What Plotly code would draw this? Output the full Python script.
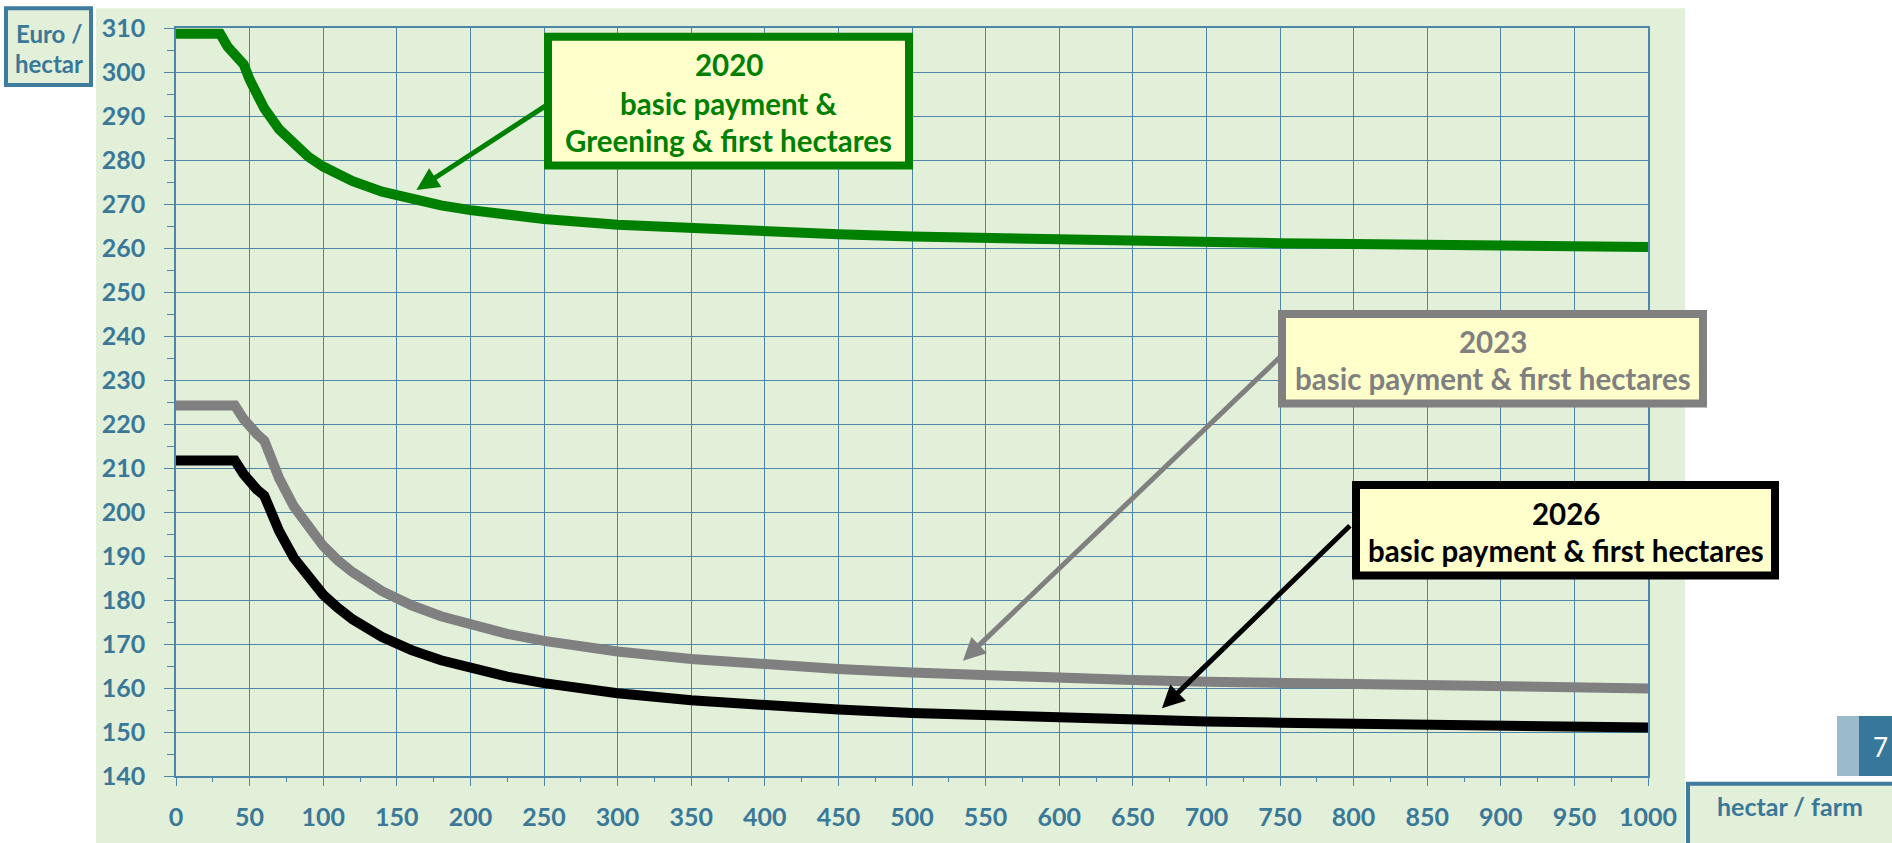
import plotly.graph_objects as go

# ---------------- data ----------------
hectares = [0, 10, 20, 30, 35, 40, 46, 50, 55, 60,
            70, 80, 90, 100, 110, 120, 140, 160, 180, 200,
            225, 250, 300, 350, 400, 450, 500, 550, 600, 650,
            700, 750, 800, 850, 900, 950, 1000]

pay_2020 = [308.7, 308.7, 308.7, 308.7, 305.8, 303.7, 301.7, 298.3, 294.7, 291.7,
            287.0, 283.5, 280.7, 278.5, 276.7, 275.2, 272.8, 271.1, 269.7, 268.6,
            267.5, 266.6, 265.3, 264.4, 263.7, 263.1, 262.6, 262.2, 261.9, 261.6,
            261.3, 261.1, 260.9, 260.7, 260.5, 260.4, 260.2]

pay_2023 = [224.2, 224.2, 224.2, 224.2, 224.2, 224.2, 221.1, 219.4, 217.7, 216.2,
            207.7, 201.3, 196.3, 192.3, 189.0, 186.3, 182.0, 178.8, 176.3, 174.3,
            172.3, 170.7, 168.3, 166.6, 165.3, 164.3, 163.5, 162.8, 162.3, 161.8,
            161.4, 161.1, 160.8, 160.5, 160.3, 160.1, 159.9]

pay_2026 = [211.7, 211.7, 211.7, 211.7, 211.7, 211.7, 208.6, 206.9, 205.1, 203.7,
            195.7, 189.6, 185.0, 181.2, 178.2, 175.6, 171.6, 168.6, 166.3, 164.4,
            162.6, 161.1, 158.8, 157.2, 156.0, 155.1, 154.3, 153.7, 153.2, 152.8,
            152.4, 152.1, 151.8, 151.6, 151.3, 151.1, 151.0]

label_2020 = ["2020", "basic payment &", "Greening & first hectares"]
label_2023 = ["2023", "basic payment & first hectares"]
label_2026 = ["2026", "basic payment & first hectares"]
y_title = ["Euro /", "hectar"]
x_title = "hectar / farm"
page_no = "7"

# arrow (tip, tail) points in data units
arrow_2020 = ((163.3, 273.2), (253.4, 292.8))
arrow_2023 = ((534.6, 166.2), (750.9, 235.5))
arrow_2026 = ((669.8, 155.4), (798.5, 197.2))

# ---------------- styling ----------------
W, H = 1892, 843
L, R, T, B = 176, 244, 26, 56
PW, PH = W - L - R, H - T - B

BG = "#E2EFD9"
GRID = "#4D86A6"
TXT = "#3A7898"
BOXFILL = "#FFFFCC"
GREEN = "#008000"
GRAY = "#808080"
BLACK = "#000000"
FONT = "Lato"


def fx(p):
    return (p - L) / PW


def fy(p):
    return (T + PH - p) / PH


fig = go.Figure()
for vals, col in [(pay_2020, GREEN), (pay_2023, GRAY), (pay_2026, BLACK)]:
    fig.add_trace(go.Scatter(x=hectares, y=vals, mode="lines",
                             line=dict(color=col, width=10),
                             showlegend=False, hoverinfo="skip"))

shapes = []
# light green panel
shapes.append(dict(type="rect", xref="paper", yref="paper", layer="below",
                   x0=fx(96), x1=fx(1685), y0=fy(900), y1=fy(6),
                   fillcolor=BG, line=dict(width=0)))


def box(x0, y0, x1, y1, col, w, fill):
    return dict(type="rect", xref="paper", yref="paper", layer="above",
                x0=fx(x0), x1=fx(x1), y0=fy(y1), y1=fy(y0),
                fillcolor=fill, line=dict(color=col, width=w))


shapes.append(box(548, 35, 909, 166, GREEN, 8, BOXFILL))
shapes.append(box(1282, 317, 1703, 408, GRAY, 8, BOXFILL))
shapes.append(box(1356, 491, 1775, 583, BLACK, 8, BOXFILL))
shapes.append(box(6, 6, 91, 84, "#3E7B9C", 4, BG))
shapes.append(box(1688, 795, 1910, 860, "#3E7B9C", 4, BG))
# page-number tab
shapes.append(dict(type="rect", xref="paper", yref="paper", layer="above",
                   x0=fx(1837), x1=fx(1859), y0=fy(787), y1=fy(726),
                   fillcolor="#9BBACB", line=dict(width=0)))
shapes.append(dict(type="rect", xref="paper", yref="paper", layer="above",
                   x0=fx(1859), x1=fx(1900), y0=fy(787), y1=fy(726),
                   fillcolor="#37779A", line=dict(width=0)))

anns = []


def text(s, xc, yc, col, size, bold=True, xanchor="center"):
    anns.append(dict(text=s, xref="paper", yref="paper", x=fx(xc), y=fy(yc),
                     xanchor=xanchor, yanchor="middle", showarrow=False,
                     font=dict(family=FONT, size=size, color=col,
                               weight=700 if bold else 400)))


for s, yc in zip(label_2020, [63, 103, 140]):
    text(s, 728.5, yc, GREEN, 29.5)
for s, yc in zip(label_2023, [345, 383]):
    text(s, 1492.5, yc, GRAY, 29.5)
for s, yc in zip(label_2026, [520, 558]):
    text(s, 1565.5, yc, BLACK, 29.5)
for s, yc in zip(y_title, [32, 62]):
    text(s, 48.5, yc, TXT, 24)
text(x_title, 1790, 818, TXT, 25)
text(page_no, 1890, 757, "#FFFFFF", 26, bold=False, xanchor="right")

for (tip, tail), col in [(arrow_2020, GREEN), (arrow_2023, GRAY), (arrow_2026, BLACK)]:
    anns.append(dict(x=tip[0], y=tip[1], ax=tail[0], ay=tail[1],
                     xref="x", yref="y", axref="x", ayref="y",
                     text="", showarrow=True, arrowhead=2, arrowsize=0.9,
                     arrowwidth=5, arrowcolor=col, standoff=0, startstandoff=0))

tickfont = dict(family=FONT, size=25, color=TXT, weight=700)

fig.update_layout(
    width=W, height=H, autosize=False,
    margin=dict(l=L, r=R, t=T, b=B, pad=0),
    paper_bgcolor="#FFFFFF", plot_bgcolor=BG,
    shapes=shapes, annotations=anns, showlegend=False,
    xaxis=dict(range=[0, 1000], tick0=0, dtick=50, showgrid=True,
               gridcolor=GRID, gridwidth=1.3, zeroline=False,
               showline=True, linecolor=GRID, linewidth=1.5, mirror=True,
               ticks="outside", ticklen=8, tickwidth=1.3, tickcolor=GRID,
               minor=dict(dtick=25, ticks="outside", ticklen=4, tickwidth=1.3,
                          tickcolor=GRID, showgrid=False),
               tickfont=tickfont, ticklabelstandoff=10, fixedrange=True),
    yaxis=dict(range=[140, 310], tick0=140, dtick=10, showgrid=True,
               gridcolor=GRID, gridwidth=1.3, zeroline=False,
               showline=True, linecolor=GRID, linewidth=1.5, mirror=True,
               ticks="outside", ticklen=10, tickwidth=1.3, tickcolor=GRID,
               minor=dict(dtick=5, ticks="outside", ticklen=7, tickwidth=1.3,
                          tickcolor=GRID, showgrid=False),
               tickfont=tickfont, ticklabelstandoff=14, fixedrange=True),
)

fig.write_html(
    "out.html",
    config={"displayModeBar": False},
    post_script="document.body.style.margin='0';document.body.style.overflow='hidden';",
)
